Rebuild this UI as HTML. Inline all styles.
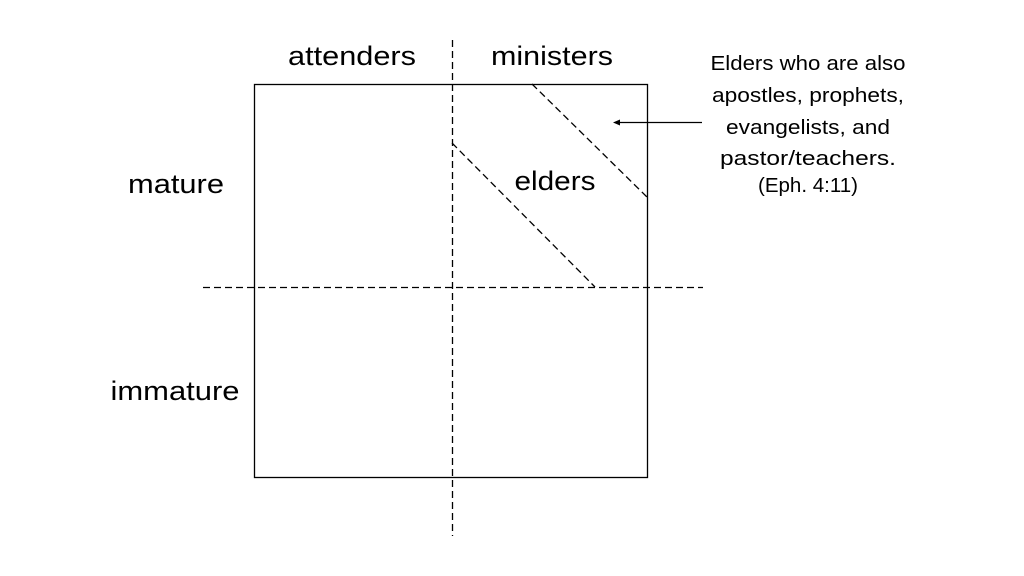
<!DOCTYPE html>
<html><head><meta charset="utf-8"><style>
html,body{margin:0;padding:0;background:#fff;}
svg{display:block;}
text{font-family:"Liberation Sans",sans-serif;fill:#000;}
</style></head><body>
<svg width="1024" height="576" viewBox="0 0 1024 576" xmlns="http://www.w3.org/2000/svg">
<rect x="254.5" y="84.5" width="393" height="393" fill="none" stroke="#000" stroke-width="1.3"/>
<g stroke="#000" stroke-width="1.3" stroke-dasharray="7,4" fill="none">
<line x1="452.5" y1="40" x2="452.5" y2="536"/>
<line x1="203" y1="287.5" x2="703" y2="287.5"/>
<line x1="532" y1="84" x2="648" y2="198"/>
<line x1="452" y1="143" x2="595" y2="287"/>
</g>
<line x1="702" y1="122.5" x2="618" y2="122.5" stroke="#000" stroke-width="1.2"/>
<polygon points="613,122.5 620,119.5 620,125.5" fill="#000"/>
<g font-size="27" text-anchor="middle">
<text x="352" y="65" textLength="128" lengthAdjust="spacingAndGlyphs">attenders</text>
<text x="552" y="65" textLength="122" lengthAdjust="spacingAndGlyphs">ministers</text>
<text x="176" y="193" textLength="96" lengthAdjust="spacingAndGlyphs">mature</text>
<text x="175" y="400" textLength="129" lengthAdjust="spacingAndGlyphs">immature</text>
<text x="555" y="190" textLength="81" lengthAdjust="spacingAndGlyphs">elders</text>
</g>
<g font-size="20" text-anchor="middle">
<text x="808" y="70" textLength="195" lengthAdjust="spacingAndGlyphs">Elders who are also</text>
<text x="808" y="102" textLength="192" lengthAdjust="spacingAndGlyphs">apostles, prophets,</text>
<text x="808" y="134" textLength="164" lengthAdjust="spacingAndGlyphs">evangelists, and</text>
<text x="808" y="165" textLength="176" lengthAdjust="spacingAndGlyphs">pastor/teachers.</text>
<text x="808" y="192" textLength="100" lengthAdjust="spacingAndGlyphs">(Eph. 4:11)</text>
</g>
</svg>
</body></html>
